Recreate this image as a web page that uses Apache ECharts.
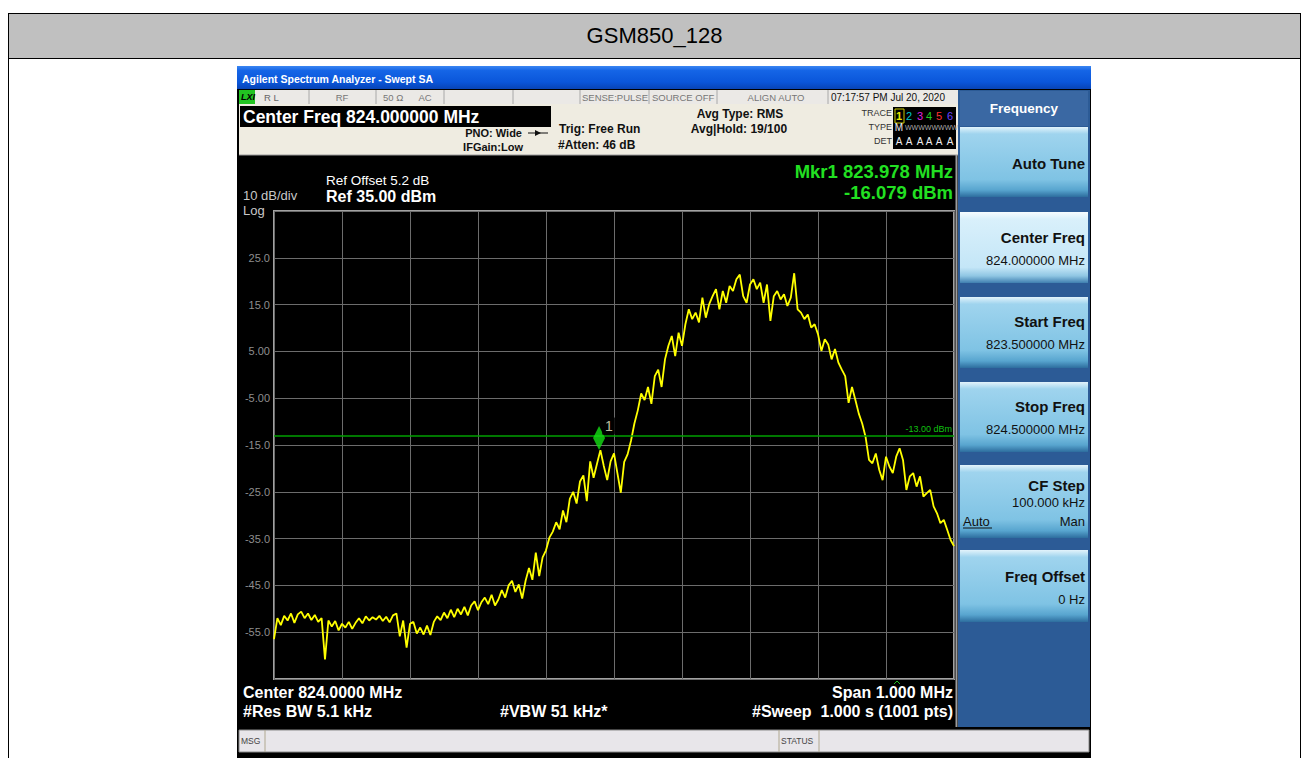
<!DOCTYPE html>
<html>
<head>
<meta charset="utf-8">
<title>GSM850_128</title>
<script src="https://cdn.jsdelivr.net/npm/echarts@6/dist/echarts.min.js"></script>
<style>
body{margin:0;background:#fff;width:1309px;height:758px;overflow:hidden;position:relative;font-family:'Liberation Sans',Arial,sans-serif}
#hdr{position:absolute;left:8px;top:13px;width:1293px;height:46px;box-sizing:border-box;border:1px solid #000;background:#c0c0c0;text-align:center;font-size:22px;line-height:44px;color:#000}
#row{position:absolute;left:8px;top:58px;width:1293px;height:710px;box-sizing:border-box;border-left:1px solid #000;border-right:1px solid #000}
#chart{position:absolute;left:237px;top:66px;width:854px;height:692px}
</style>
</head>
<body>
<div id="hdr">GSM850_128</div>
<div id="row"></div>
<div id="chart"></div>
<script>
// sweep: 823.5 .. 824.5 MHz, every 5 kHz
var traceStartMHz = 823.5;
var traceStepMHz = 0.005;
var traceDbm = [
  -56.5, -52.0, -53.5, -51.5, -52.5, -51.0, -53.0, -51.2, -50.6, -52.0,
  -51.0, -52.4, -51.3, -52.8, -52.0, -60.8, -52.5, -53.8, -52.6, -54.6,
  -53.2, -54.0, -52.8, -54.3, -53.0, -52.0, -53.1, -51.6, -52.5, -51.8,
  -52.3, -51.5, -52.6, -51.7, -52.9, -51.4, -51.0, -55.9, -52.5, -58.3,
  -53.2, -52.8, -55.3, -54.0, -55.5, -53.6, -55.6, -52.8, -51.6, -52.4,
  -50.8, -52.0, -50.2, -51.8, -50.0, -51.2, -49.6, -51.4, -49.3, -48.4,
  -50.3, -48.6, -47.6, -49.0, -47.0, -49.3, -48.0, -46.0, -47.6, -45.0,
  -44.0, -46.4, -44.8, -47.8, -44.0, -41.3, -43.8, -38.0, -43.0, -39.0,
  -37.5, -34.8, -33.5, -31.5, -33.0, -29.0, -31.5, -26.5, -25.0, -27.5,
  -22.8, -21.5, -27.0, -18.5, -22.0, -19.0, -16.1, -19.5, -22.5, -18.5,
  -16.8, -21.0, -25.2, -18.6, -17.0, -14.1, -10.4, -7.6, -4.0, -5.4,
  -2.6, -6.2, -0.3, 1.1, -2.6, 3.3, 6.2, 8.3, 4.0, 9.0,
  6.2, 10.8, 14.0, 11.9, 13.3, 11.2, 16.5, 12.2, 15.1, 16.8,
  18.3, 14.0, 17.9, 15.4, 19.0, 17.9, 20.4, 21.4, 16.8, 15.4,
  19.3, 20.4, 18.3, 19.7, 15.4, 19.3, 11.5, 16.8, 17.9, 16.1,
  17.2, 14.7, 16.5, 21.7, 14.0, 13.3, 11.9, 12.9, 10.1, 10.8,
  8.7, 5.1, 7.6, 6.5, 3.3, 5.5, 2.6, 1.1, -0.3, -6.0,
  -2.6, -5.4, -8.3, -10.4, -13.3, -18.2, -18.9, -16.8, -20.3, -22.5,
  -17.5, -19.6, -21.0, -17.5, -15.7, -18.2, -24.6, -21.7, -21.0, -23.9,
  -21.7, -26.0, -25.3, -24.6, -28.1, -29.6, -31.7, -31.0, -33.1, -35.3,
  -36.6
];
var markerFreq = [823.978];
var markerDbm = [-16.079];
var limitDbm = [-13];

var traceData = traceDbm.map(function (v, i) {
  return [+(traceStartMHz + i * traceStepMHz).toFixed(3), v];
});
var markerData = markerFreq.map(function (f, i) { return [f, markerDbm[i]]; });

// chart div sits at (237,66) on the page; graphic helpers take page coords
var OX = 237, OY = 66;
var FONT = '"Liberation Sans", Arial, sans-serif';
function rect(x1, y1, x2, y2, fill, stroke, lw) {
  return {type: 'rect', silent: true, shape: {x: x1 - OX, y: y1 - OY, width: x2 - x1, height: y2 - y1},
    style: {fill: fill || 'none', stroke: stroke || null, lineWidth: lw || 1}};
}
function line(x1, y1, x2, y2, color, w) {
  return {type: 'line', silent: true, shape: {x1: x1 - OX, y1: y1 - OY, x2: x2 - OX, y2: y2 - OY},
    style: {stroke: color, lineWidth: w || 1}};
}
function text(x, y, s, font, color, align) {
  return {type: 'text', silent: true, x: x - OX, y: y - OY,
    style: {text: s, font: font + ' ' + FONT, fill: color, textAlign: align || 'left', align: align || 'left',
      textVerticalAlign: 'middle', verticalAlign: 'middle'}};
}
function grad(stops) {
  return new echarts.graphic.LinearGradient(0, 0, 0, 1, stops.map(function (s) { return {offset: s[0], color: s[1]}; }));
}
function softkey(y1, y2, selected) {
  var g = selected
    ? grad([[0, '#f6fcff'], [0.1, '#d9f0fb'], [0.78, '#c4e6f7'], [0.9, '#8fc6e3'], [1, '#3f7fb0']])
    : grad([[0, '#e2f3fb'], [0.1, '#9fd4ee'], [0.75, '#7fc3e4'], [0.9, '#58a5cf'], [1, '#2d6d9e']]);
  return rect(960, y1, 1088, y2, g);
}

var chrome = [
  // title bar
  rect(237, 66, 1091, 89, grad([[0, '#3b86f2'], [0.2, '#1565e6'], [0.7, '#0a56da'], [1, '#0844b6']])),
  text(242, 79, 'Agilent Spectrum Analyzer - Swept SA', 'bold 10.5px', '#fff'),
  // status strip
  rect(239, 90, 958, 104, '#ebe9e6'),
  rect(239, 90, 255, 104, '#22c422'),
  text(241, 97, 'LXI', 'italic bold 9px', '#000'),
  line(309, 90, 309, 104, '#a8a8a8'), line(376, 90, 376, 104, '#a8a8a8'),
  line(444, 90, 444, 104, '#a8a8a8'), line(513, 90, 513, 104, '#a8a8a8'),
  line(580, 90, 580, 104, '#a8a8a8'), line(649, 90, 649, 104, '#a8a8a8'),
  line(717, 90, 717, 104, '#a8a8a8'), line(828, 90, 828, 104, '#a8a8a8'),
  text(264, 97, 'R L', '9.5px', '#666'),
  text(342, 97, 'RF', '9.5px', '#777', 'center'),
  text(383, 97, '50 Ω', '9.5px', '#777'),
  text(425, 97, 'AC', '9.5px', '#777', 'center'),
  text(582, 97, 'SENSE:PULSE', '9.5px', '#777'),
  text(652, 97, 'SOURCE OFF', '9.5px', '#777'),
  text(776, 97, 'ALIGN AUTO', '9.5px', '#777', 'center'),
  text(831, 97, '07:17:57 PM Jul 20, 2020', '10px', '#111'),
  // settings panel
  rect(239, 104, 958, 155, '#efece1'),
  line(239, 155, 958, 155, '#9a9a9a'),
  rect(240, 106, 551, 127, '#000'),
  text(243, 117, 'Center Freq 824.000000 MHz', 'bold 17.5px', '#fff'),
  text(522, 133, 'PNO: Wide', 'bold 11px', '#111', 'right'),
  line(528, 133, 548, 133, '#111'),
  {type: 'polygon', silent: true, shape: {points: [[535 - OX, 130 - OY], [541 - OX, 133 - OY], [535 - OX, 136 - OY]]}, style: {fill: '#111'}},
  text(523, 147, 'IFGain:Low', 'bold 11px', '#111', 'right'),
  text(559, 129, 'Trig: Free Run', 'bold 12px', '#111'),
  text(558, 145, '#Atten: 46 dB', 'bold 12px', '#111'),
  text(740, 114, 'Avg Type: RMS', 'bold 12px', '#111', 'center'),
  text(739, 129, 'Avg|Hold: 19/100', 'bold 12px', '#111', 'center'),
  text(892, 113, 'TRACE', '9px', '#333', 'right'),
  text(892, 127, 'TYPE', '9px', '#333', 'right'),
  text(892, 141, 'DET', '9px', '#333', 'right'),
  rect(893, 107, 956, 149, '#000'),
  rect(895, 109, 904, 123, null, '#c8c800'),
  text(899, 116, '1', 'bold 11px', '#e8e800', 'center'),
  text(909, 116, '2', '11px', '#00c8c8', 'center'),
  text(920, 116, '3', '11px', '#e020e0', 'center'),
  text(929, 116, '4', '11px', '#20d020', 'center'),
  text(939, 116, '5', '11px', '#ff3030', 'center'),
  text(950, 116, '6', '11px', '#6a40ff', 'center'),
  text(899, 127, 'M', '10px', '#eee', 'center'),
  text(905, 127, 'WWWWWWWW', '7px', '#aaa'),
  text(899, 141, 'A', '10px', '#eee', 'center'),
  text(909, 141, 'A', '10px', '#eee', 'center'),
  text(920, 141, 'A', '10px', '#eee', 'center'),
  text(929, 141, 'A', '10px', '#eee', 'center'),
  text(939, 141, 'A', '10px', '#eee', 'center'),
  text(950, 141, 'A', '10px', '#eee', 'center'),
  // display texts
  text(326, 180, 'Ref Offset 5.2 dB', '13.5px', '#fff'),
  text(326, 196, 'Ref 35.00 dBm', 'bold 16px', '#fff'),
  text(243, 195, '10 dB/div', '13px', '#c8c8c8'),
  text(243, 210, 'Log', '13px', '#c8c8c8'),
  text(953, 171, 'Mkr1 823.978 MHz', 'bold 18.5px', '#22e022', 'right'),
  text(953, 192, '-16.079 dBm', 'bold 18.5px', '#22e022', 'right'),
  {type: 'polyline', silent: true, shape: {points: [[894 - OX, 684 - OY], [897 - OX, 681 - OY], [900 - OX, 684 - OY]]}, style: {stroke: '#22c022', lineWidth: 1, fill: null}},
  text(243, 692, 'Center 824.0000 MHz', 'bold 16px', '#fff'),
  text(243, 711, '#Res BW 5.1 kHz', 'bold 16px', '#fff'),
  text(500, 711, '#VBW 51 kHz*', 'bold 16px', '#fff'),
  text(953, 692, 'Span 1.000 MHz', 'bold 16px', '#fff', 'right'),
  text(953, 711, '#Sweep  1.000 s (1001 pts)', 'bold 16px', '#fff', 'right'),
  line(956.5, 155, 956.5, 727, '#9c9c9c', 2),
  // softkey panel
  rect(958, 90, 1090, 727, '#2c5b96'),
  rect(960, 91, 1088, 126, '#3a68a3'),
  text(1024, 108, 'Frequency', 'bold 13.5px', '#fff', 'center'),
  softkey(127, 197, false),
  text(1085, 163, 'Auto Tune', 'bold 15px', '#111', 'right'),
  softkey(212, 283, true),
  text(1085, 237, 'Center Freq', 'bold 15px', '#111', 'right'),
  text(1085, 260, '824.000000 MHz', '13px', '#111', 'right'),
  softkey(297, 368, false),
  text(1085, 321, 'Start Freq', 'bold 15px', '#111', 'right'),
  text(1085, 344, '823.500000 MHz', '13px', '#111', 'right'),
  softkey(382, 452, false),
  text(1085, 406, 'Stop Freq', 'bold 15px', '#111', 'right'),
  text(1085, 429, '824.500000 MHz', '13px', '#111', 'right'),
  softkey(465, 538, false),
  text(1085, 485, 'CF Step', 'bold 15px', '#111', 'right'),
  text(1085, 502, '100.000 kHz', '13px', '#111', 'right'),
  text(963, 521, 'Auto', '13px', '#111'),
  line(963, 528, 992, 528, '#111'),
  text(1085, 521, 'Man', '13px', '#111', 'right'),
  softkey(550, 622, false),
  text(1085, 576, 'Freq Offset', 'bold 15px', '#111', 'right'),
  text(1085, 599, '0 Hz', '13px', '#111', 'right'),
  // bottom status bar
  rect(239, 730, 1089, 752, '#e8e6ea', '#8a8a8a'),
  line(265, 730, 265, 752, '#b0a890'),
  line(779, 730, 779, 752, '#b0a890'),
  line(819, 730, 819, 752, '#b0a890'),
  text(241, 741, 'MSG', '8.5px', '#444'),
  text(781, 741, 'STATUS', '8.5px', '#444')
];

var chart = echarts.init(document.getElementById('chart'), null, {renderer: 'svg'});
var option = {
  animation: false,
  backgroundColor: '#000',
  graphic: {elements: chrome},
  grid: {left: 37, top: 145, width: 680, height: 468, show: true, borderColor: '#a2a2a2', borderWidth: 2},
  xAxis: {
    type: 'value', min: 823.5, max: 824.5, interval: 0.1,
    axisLine: {show: false}, axisTick: {show: false}, axisLabel: {show: false},
    splitLine: {lineStyle: {color: '#6c6c6c', width: 1}}
  },
  yAxis: {
    type: 'value', min: -65, max: 35, interval: 10,
    axisLine: {show: false}, axisTick: {show: false},
    axisLabel: {
      color: '#8e8e8e', fontSize: 11, fontFamily: 'Liberation Sans', margin: 4,
      showMinLabel: false, showMaxLabel: false,
      formatter: function (v) {
        if (v <= -65 || v >= 35) return '';
        return Math.abs(v) < 10 ? v.toFixed(2) : v.toFixed(1);
      }
    },
    splitLine: {lineStyle: {color: '#6c6c6c', width: 1}}
  },
  series: [
    {
      name: 'Trace 1',
      type: 'line',
      data: traceData,
      showSymbol: false,
      lineStyle: {color: '#ffff00', width: 1.8},
      itemStyle: {color: '#ffff00'},
      z: 3,
      markLine: {
        silent: true, symbol: 'none',
        lineStyle: {color: '#00a000', width: 1.5, type: 'solid'},
        label: {position: 'insideEndTop', formatter: '-13.00 dBm', color: '#10c010', fontSize: 9, fontFamily: 'Liberation Sans', distance: [2, 2]},
        data: [{yAxis: limitDbm[0]}]
      }
    },
    {
      name: 'Mkr1',
      type: 'scatter',
      data: markerData,
      symbol: 'diamond',
      symbolSize: [12, 24],
      symbolOffset: [0, -12],
      itemStyle: {color: '#14e014'},
      z: 5,
      label: {
        show: true, formatter: '1', position: 'right', offset: [-8, -12],
        color: '#f0f0c8', fontSize: 14, fontFamily: 'Liberation Sans',
        backgroundColor: '#000', padding: [1, 3, 2, 3]
      }
    }
  ]
};
chart.setOption(option);
</script>
</body>
</html>
